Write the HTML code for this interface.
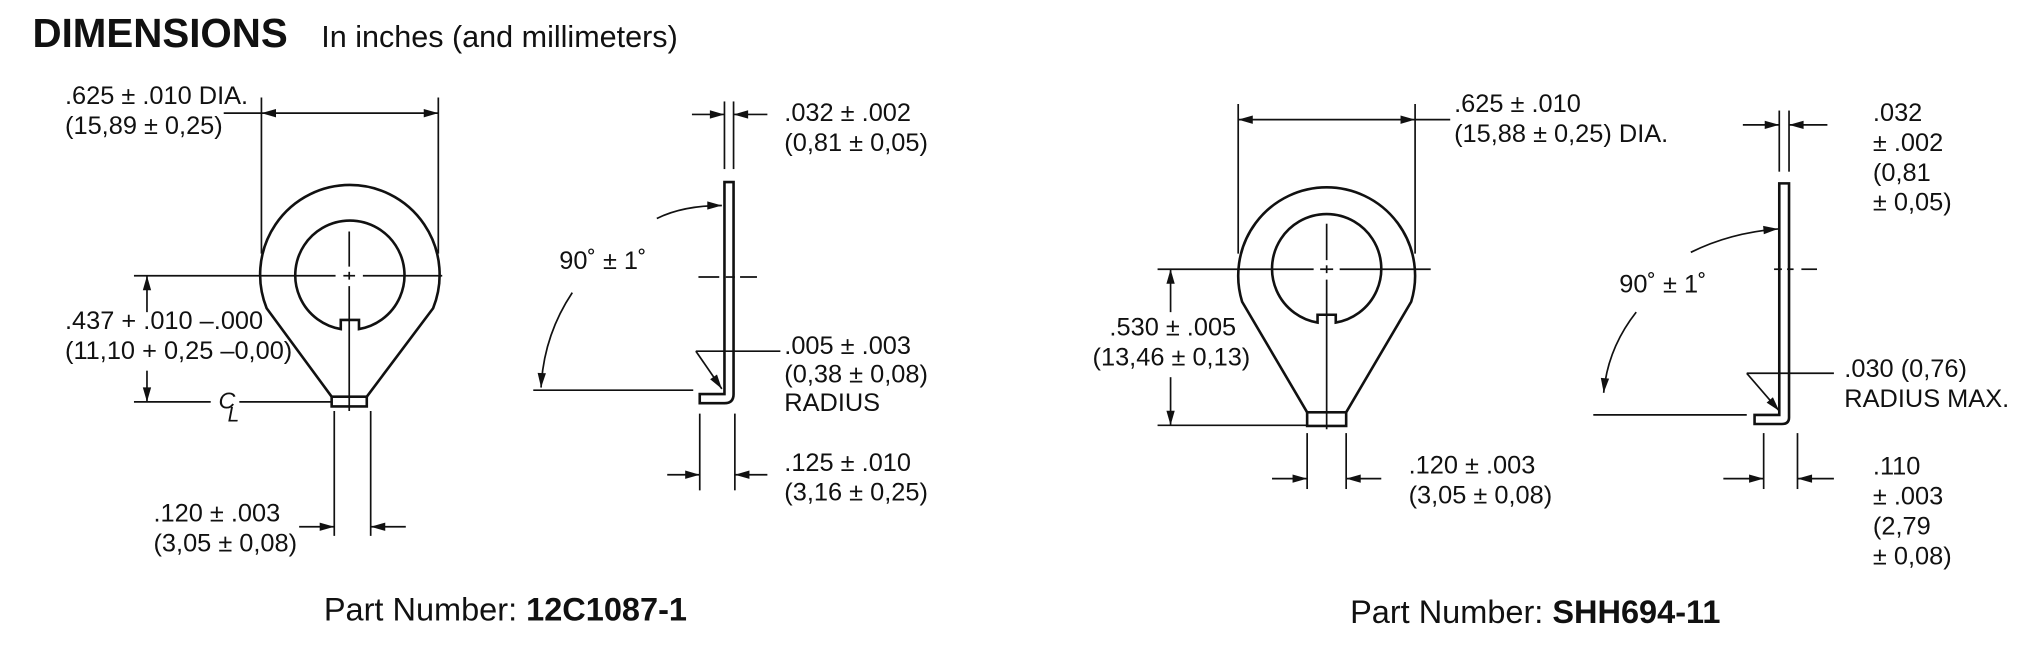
<!DOCTYPE html>
<html><head><meta charset="utf-8"><style>
html,body{margin:0;padding:0;background:#fff;}
svg{display:block;}
text{font-family:"Liberation Sans",Arial,sans-serif;fill:#111;font-size:19.5px;}
.l{stroke:#111;stroke-width:1.3;fill:none;}
.t{stroke:#111;stroke-width:2;fill:none;}
</style></head><body>
<svg width="2029" height="665" viewBox="0 0 1560 511.3" preserveAspectRatio="none" xmlns="http://www.w3.org/2000/svg">
<defs>
<marker id="a" viewBox="0 0 14 10" refX="14" refY="5" markerWidth="14" markerHeight="8" orient="auto-start-reverse" markerUnits="userSpaceOnUse">
<path d="M0,1 L14,5 L0,9 z" fill="#111"/></marker>
</defs>
<text x="25" y="36" style="font-size:31px;font-weight:bold">DIMENSIONS</text>
<text x="247" y="36" style="font-size:23.5px">In inches (and millimeters)</text>

<!-- LEFT RING -->
<path class="t" d="M255,305 L205,237 A69,69 0 1 1 333,237 L282,305"/>
<rect class="t" x="255" y="305" width="27" height="7.5"/>
<path class="t" d="M262,253 A42,42 0 1 1 276,253 L276,246 L262,246 Z" />
<line class="l" x1="268.5" y1="178" x2="268.5" y2="205"/><line class="l" x1="268.5" y1="209" x2="268.5" y2="215"/><line class="l" x1="268.5" y1="220" x2="268.5" y2="316"/>
<line class="l" x1="103" y1="212" x2="258" y2="212"/><line class="l" x1="264" y1="212" x2="273" y2="212"/><line class="l" x1="279" y1="212" x2="340" y2="212"/>
<line class="l" x1="201" y1="75" x2="201" y2="195"/><line class="l" x1="337" y1="75" x2="337" y2="195"/>
<line class="l" x1="201" y1="87" x2="337" y2="87" marker-start="url(#a)" marker-end="url(#a)"/>
<line class="l" x1="172" y1="87" x2="201" y2="87"/>
<text x="50" y="80">.625 ± .010 DIA.</text><text x="50" y="103">(15,89 ± 0,25)</text>
<line class="l" x1="113" y1="240" x2="113" y2="212" marker-end="url(#a)"/>
<line class="l" x1="113" y1="285" x2="113" y2="309" marker-end="url(#a)"/>
<text x="50" y="253">.437 + .010 –.000</text><text x="50" y="276">(11,10 + 0,25 –0,00)</text>
<line class="l" x1="103" y1="309" x2="162" y2="309"/><line class="l" x1="184" y1="309" x2="255" y2="309"/>
<text x="168" y="314" style="font-size:18px;font-style:italic">C</text><text x="175" y="324" style="font-size:16px;font-style:italic">L</text>
<line class="l" x1="257" y1="316" x2="257" y2="412"/><line class="l" x1="285" y1="316" x2="285" y2="412"/>
<line class="l" x1="230" y1="405" x2="257" y2="405" marker-end="url(#a)"/>
<line class="l" x1="312" y1="405" x2="285" y2="405" marker-end="url(#a)"/>
<text x="118" y="401">.120 ± .003</text><text x="118" y="424">(3,05 ± 0,08)</text>

<!-- LEFT SIDE VIEW -->
<path class="t" d="M557,140 L564,140 L564,303 Q564,310 557,310 L538,310 L538,303 L557,303 Z"/>
<line class="l" x1="557" y1="78" x2="557" y2="130"/><line class="l" x1="564" y1="78" x2="564" y2="130"/>
<line class="l" x1="532" y1="88" x2="557" y2="88" marker-end="url(#a)"/>
<line class="l" x1="590" y1="88" x2="564" y2="88" marker-end="url(#a)"/>
<text x="603" y="93">.032 ± .002</text><text x="603" y="116">(0,81 ± 0,05)</text>
<path class="l" d="M505,168 Q525,158 555,158" marker-end="url(#a)"/>
<path class="l" d="M440,225 Q418,258 416,298" marker-end="url(#a)"/>
<text x="430" y="207">90˚ ± 1˚</text>
<line class="l" x1="410" y1="300" x2="533" y2="300"/>
<line class="l" x1="537" y1="213" x2="553" y2="213"/><line class="l" x1="558" y1="213" x2="565" y2="213"/><line class="l" x1="569" y1="213" x2="582" y2="213"/>
<line class="l" x1="600" y1="270" x2="535" y2="270"/>
<line class="l" x1="535" y1="270" x2="555" y2="299" marker-end="url(#a)"/>
<text x="603" y="272">.005 ± .003</text><text x="603" y="294">(0,38 ± 0,08)</text><text x="603" y="316">RADIUS</text>
<line class="l" x1="538" y1="318" x2="538" y2="377"/><line class="l" x1="565" y1="318" x2="565" y2="377"/>
<line class="l" x1="513" y1="365" x2="538" y2="365" marker-end="url(#a)"/>
<line class="l" x1="590" y1="365" x2="565" y2="365" marker-end="url(#a)"/>
<text x="603" y="362">.125 ± .010</text><text x="603" y="385">(3,16 ± 0,25)</text>
<text x="249" y="477" style="font-size:25px">Part Number: <tspan style="font-weight:bold">12C1087-1</tspan></text>

<!-- RIGHT RING -->
<path class="t" d="M1005,317 L955,232 A68,68 0 1 1 1085,232 L1035,317"/>
<rect class="t" x="1005" y="317" width="30" height="10.5"/>
<path class="t" d="M1013,248 A42,42 0 1 1 1027,248 L1027,242 L1013,242 Z"/>
<line class="l" x1="1020" y1="172" x2="1020" y2="200"/><line class="l" x1="1020" y1="204" x2="1020" y2="210"/><line class="l" x1="1020" y1="215" x2="1020" y2="330"/>
<line class="l" x1="890" y1="207" x2="1010" y2="207"/><line class="l" x1="1015" y1="207" x2="1025" y2="207"/><line class="l" x1="1030" y1="207" x2="1100" y2="207"/>
<line class="l" x1="952" y1="80" x2="952" y2="195"/><line class="l" x1="1088" y1="80" x2="1088" y2="195"/>
<line class="l" x1="952" y1="92" x2="1088" y2="92" marker-start="url(#a)" marker-end="url(#a)"/>
<line class="l" x1="1088" y1="92" x2="1115" y2="92"/>
<text x="1118" y="86">.625 ± .010</text><text x="1118" y="109">(15,88 ± 0,25) DIA.</text>
<line class="l" x1="900" y1="240" x2="900" y2="207" marker-end="url(#a)"/>
<line class="l" x1="900" y1="290" x2="900" y2="327" marker-end="url(#a)"/>
<text x="853" y="258">.530 ± .005</text><text x="840" y="281">(13,46 ± 0,13)</text>
<line class="l" x1="890" y1="327" x2="1005" y2="327"/>
<line class="l" x1="1005" y1="333" x2="1005" y2="376"/><line class="l" x1="1035" y1="333" x2="1035" y2="376"/>
<line class="l" x1="978" y1="368" x2="1005" y2="368" marker-end="url(#a)"/>
<line class="l" x1="1062" y1="368" x2="1035" y2="368" marker-end="url(#a)"/>
<text x="1083" y="364">.120 ± .003</text><text x="1083" y="387">(3,05 ± 0,08)</text>

<!-- RIGHT SIDE VIEW -->
<path class="t" d="M1368,141 L1375.5,141 L1375.5,321 Q1375.5,326 1370,326 L1349,326 L1349,319 L1368,319 Z"/>
<line class="l" x1="1368" y1="85" x2="1368" y2="132"/><line class="l" x1="1375.5" y1="85" x2="1375.5" y2="132"/>
<line class="l" x1="1340" y1="96" x2="1368" y2="96" marker-end="url(#a)"/>
<line class="l" x1="1405" y1="96" x2="1375.5" y2="96" marker-end="url(#a)"/>
<text x="1440" y="93">.032</text><text x="1440" y="116">± .002</text><text x="1440" y="139">(0,81</text><text x="1440" y="162">± 0,05)</text>
<path class="l" d="M1300,194 Q1330,179 1367,176" marker-end="url(#a)"/>
<path class="l" d="M1258,240 Q1236,268 1233,302" marker-end="url(#a)"/>
<text x="1245" y="225">90˚ ± 1˚</text>
<line class="l" x1="1225" y1="319" x2="1343" y2="319"/>
<line class="l" x1="1364" y1="207" x2="1370" y2="207"/><line class="l" x1="1374" y1="207" x2="1379" y2="207"/><line class="l" x1="1385" y1="207" x2="1397" y2="207"/>
<line class="l" x1="1343" y1="287" x2="1410" y2="287"/>
<line class="l" x1="1343" y1="287" x2="1368" y2="316" marker-end="url(#a)"/>
<text x="1418" y="290">.030 (0,76)</text><text x="1418" y="313">RADIUS MAX.</text>
<line class="l" x1="1356" y1="333" x2="1356" y2="376"/><line class="l" x1="1382" y1="333" x2="1382" y2="376"/>
<line class="l" x1="1325" y1="368" x2="1356" y2="368" marker-end="url(#a)"/>
<line class="l" x1="1410" y1="368" x2="1382" y2="368" marker-end="url(#a)"/>
<text x="1440" y="365">.110</text><text x="1440" y="388">± .003</text><text x="1440" y="411">(2,79</text><text x="1440" y="434">± 0,08)</text>
<text x="1038" y="479" style="font-size:25px">Part Number: <tspan style="font-weight:bold">SHH694-11</tspan></text>
</svg>
</body></html>
